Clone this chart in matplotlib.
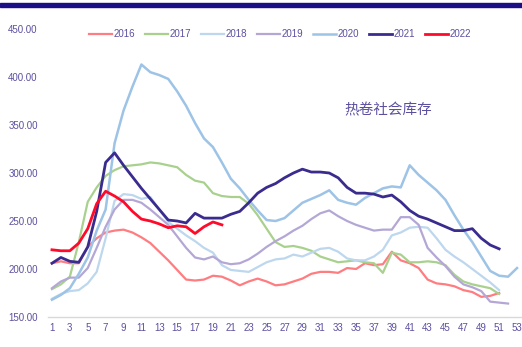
import numpy as np
import matplotlib
matplotlib.use("Agg")
import matplotlib.pyplot as plt

plt.rcParams['font.family'] = ['Liberation Sans', 'DejaVu Sans']

# weekly hot-rolled coil social inventory, by year
years = ["2016", "2017", "2018", "2019", "2020", "2021", "2022"]

y2016 = [206, 208, 206, 206, 223, 232, 238, 240, 241, 238, 233, 227, 218, 209, 199, 189, 188,
         189, 193, 192, 188, 183, 187, 190, 187, 183, 184, 187, 190, 195, 197, 197, 196, 201,
         200, 206, 204, 205, 218, 209, 206, 201, 189, 185, 184, 182, 178, 176, 171, 172, 175]
y2017 = [179, 184, 192, 228, 270, 285, 297, 303, 307, 308, 309, 311, 310, 308, 306, 298, 292,
         290, 279, 276, 275, 275, 268, 256, 242, 228, 223, 224, 222, 219, 213, 210, 207, 208,
         209, 207, 206, 196, 217, 215, 207, 207, 208, 207, 204, 194, 187, 184, 182, 180, 174]
y2018 = [169, 174, 177, 178, 185, 197, 232, 271, 278, 277, 273, 275, 262, 249, 242, 235, 229,
         222, 217, 204, 199, 198, 197, 202, 207, 210, 211, 215, 213, 217, 221, 222, 218, 211,
         209, 209, 213, 220, 235, 238, 243, 244, 243, 232, 220, 213, 207, 200, 193, 186, 178]
y2019 = [180, 187, 191, 191, 201, 222, 244, 262, 272, 272, 269, 262, 254, 246, 234, 222, 212,
         210, 213, 207, 205, 206, 210, 216, 223, 229, 234, 240, 245, 252, 258, 261, 255, 250,
         246, 243, 240, 241, 241, 254, 254, 246, 222, 212, 203, 192, 184, 181, 177, 166, 165, 164]
y2020 = [168, 173, 180, 195, 212, 240, 262, 331, 365, 390, 413, 405, 402, 398, 385, 370, 352,
         336, 327, 311, 294, 284, 272, 261, 251, 250, 253, 261, 269, 273, 277, 282, 272, 269,
         267, 274, 279, 284, 286, 285, 308, 298, 290, 282, 272, 256, 241, 228, 213, 198, 193,
         192, 201]
y2021 = [206, 212, 208, 207, 223, 260, 311, 321, 308, 296, 284, 273, 262, 251, 250, 248, 258,
         253, 253, 253, 257, 260, 269, 279, 285, 289, 295, 300, 304, 301, 301, 300, 295, 285,
         279, 279, 278, 275, 277, 270, 261, 255, 252, 248, 244, 240, 240, 242, 232, 225, 221]
y2022 = [220, 219, 219, 227, 242, 268, 281, 276, 270, 260, 252, 250, 247, 243, 245, 244, 237,
         244, 249, 246]

series = [y2016, y2017, y2018, y2019, y2020, y2021, y2022]
colors = ["#FF7C80", "#A9D18E", "#BDD7EE", "#B4A7D6", "#9DC3E6", "#3A2C8E", "#FF0A2A"]
widths = [1.6, 1.6, 1.6, 1.6, 1.8, 2.0, 2.0]

xticks = list(range(1, 54, 2))
yticks = [150, 200, 250, 300, 350, 400, 450]
txt = "#5B50A0"

fig = plt.figure(figsize=(5.22, 3.47), dpi=100, facecolor="white")
ax = fig.add_axes([47.5 / 522, 30 / 347, 474 / 522, 288 / 347])

for name, vals, c, lw in zip(years, series, colors, widths):
    wk = np.arange(1, len(vals) + 1)
    ax.plot(wk, vals, color=c, lw=lw, label=name, solid_joinstyle="round")

ax.set_xlim(0.5, 53.5)
ax.set_ylim(150, 450)
ax.set_xticks(xticks)
ax.set_xticklabels([str(t) for t in xticks])
ax.set_yticks(yticks)
ax.set_yticklabels([f"{v:.2f}" for v in yticks])
ax.tick_params(axis="both", length=0, labelsize=7, colors=txt)
ax.tick_params(axis="x", pad=4)
ax.tick_params(axis="y", pad=7)

for s in ["top", "right", "left"]:
    ax.spines[s].set_visible(False)
ax.spines["bottom"].set_color("#D9D9D9")
ax.spines["bottom"].set_linewidth(1.0)

leg = fig.legend(loc="center", bbox_to_anchor=(280 / 522, 1 - 34 / 347), ncol=7,
                 frameon=False, fontsize=7, handlelength=2.4, handletextpad=0.15,
                 columnspacing=1.0)
for t in leg.get_texts():
    t.set_color(txt)

fig.text(388 / 522, 1 - 110 / 347, "热卷社会库存", fontsize=10.5, color=txt,
         ha="center", va="center", family=["Noto Sans CJK SC", "DejaVu Sans"])

# header strip
fig.patches.append(plt.Rectangle((0, 1 - 6.7 / 347), 1, 3.4 / 347, transform=fig.transFigure,
                                 color="#1C0F86", zorder=5))

fig.savefig("out.png", dpi=100, facecolor="white")
